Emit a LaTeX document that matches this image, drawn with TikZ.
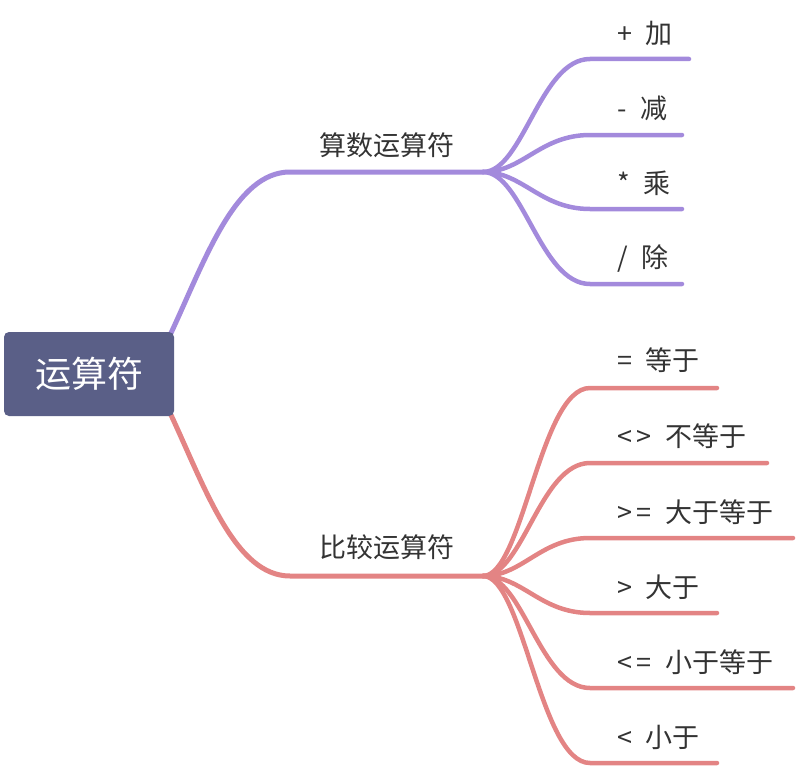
\documentclass[tikz,border=0pt]{standalone}
\usepackage{fontspec}
\setmainfont{Noto Sans CJK SC}
\usetikzlibrary{backgrounds}

\definecolor{rootblue}{HTML}{5A5F87}
\definecolor{arithpurple}{HTML}{A38ADC}
\definecolor{comparered}{HTML}{E38484}
\definecolor{labelgray}{HTML}{333333}

\begin{document}
\begin{tikzpicture}[x=1pt, y=-1pt,
  rootbox/.style={fill=rootblue, rounded corners=5pt, minimum width=170pt, minimum height=84pt, text=white, font=\fontsize{36}{40}\selectfont, inner sep=0pt},
  lbl/.style={font=\fontsize{27}{32}\selectfont, text=labelgray, inner sep=0pt},
  leaf/.style={lbl, anchor=west, font={\fontsize{27}{32}\selectfont\spaceskip=0.5em\relax}},
  arm/.style={line width=5pt, line cap=round},
  twig/.style={line width=4.5pt, line cap=round},
]
\useasboundingbox (0,0) rectangle (798,768);
\node[rootbox] (root) at (89,374) {运算符};
% === Arithmetic branch ===
\node[lbl] (arith) at (387,145) {算数运算符};
\coordinate (arithL) at (290,172);
\coordinate (arithR) at (483,172);
\node[leaf] (add) at (617,33) {+ 加};
\node[leaf] (sub) at (617,108) {- 减};
\node[leaf] (mul) at (617,183) {* 乘};
\node[leaf] (div) at (617,258) {/ 除};
\coordinate (addL) at (590,59);  \coordinate (addR) at (689,59);
\coordinate (subL) at (590,135); \coordinate (subR) at (682,135);
\coordinate (mulL) at (590,209); \coordinate (mulR) at (682,209);
\coordinate (divL) at (590,284); \coordinate (divR) at (682,284);
% === Comparison branch ===
\node[lbl] (comp) at (387,547) {比较运算符};
\coordinate (compL) at (290,576);
\coordinate (compR) at (483,576);
\node[leaf] (eq) at (617,360) {= 等于};
\node[leaf] (ne) at (617,436) {<\,> 不等于};
\node[leaf] (ge) at (617,512) {>\,= 大于等于};
\node[leaf] (gt) at (617,587) {> 大于};
\node[leaf] (le) at (617,662) {<\,= 小于等于};
\node[leaf] (lt) at (617,737) {< 小于};
\coordinate (eqL) at (590,388); \coordinate (eqR) at (717,388);
\coordinate (neL) at (590,463); \coordinate (neR) at (767,463);
\coordinate (geL) at (590,538); \coordinate (geR) at (793,538);
\coordinate (gtL) at (590,613); \coordinate (gtR) at (717,613);
\coordinate (leL) at (590,688); \coordinate (leR) at (793,688);
\coordinate (ltL) at (590,763); \coordinate (ltR) at (717,763);
% === Connectors ===
\begin{scope}[on background layer]
\draw[arm, arithpurple] ([xshift=-4pt,yshift=-3pt]root.north east) .. controls +(35,-75) and +(-55,0) .. (arithL) -- (arithR);
\foreach \leaf in {add,sub,mul,div}
  \draw[twig, arithpurple] (arithR) .. controls +(40,0) and +(-50,0) .. (\leaf L) -- (\leaf R);
\draw[arm, comparered] ([xshift=-4pt,yshift=3pt]root.south east) .. controls +(35,75) and +(-55,0) .. (compL) -- (compR);
\foreach \leaf in {eq,ne,ge,gt,le,lt}
  \draw[twig, comparered] (compR) .. controls +(40,0) and +(-50,0) .. (\leaf L) -- (\leaf R);
\end{scope}
\end{tikzpicture}
\end{document}
